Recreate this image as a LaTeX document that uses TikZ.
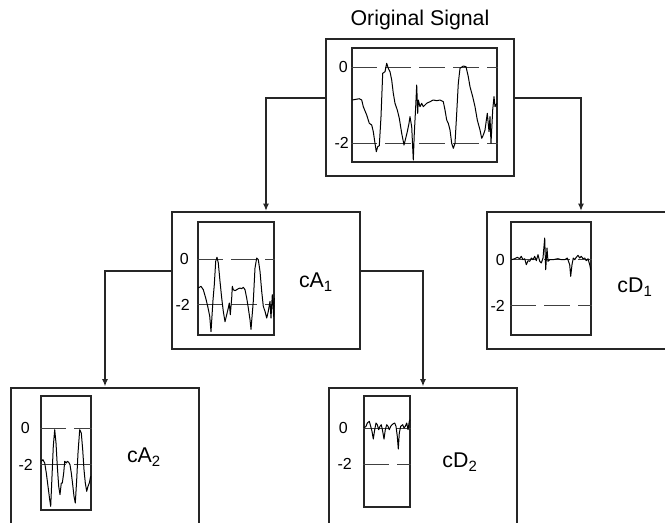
\documentclass[tikz,border=0pt]{standalone}
\usepackage{fontspec}
\setmainfont{Liberation Sans}
\usetikzlibrary{positioning,arrows.meta}
\begin{document}
\begin{tikzpicture}[x=0.75pt, y=-0.75pt,
    panel/.style={draw=black!85, line width=1.5pt, minimum width=141pt, minimum height=102.75pt, inner sep=0pt},
    plotbox/.style={draw=black!85, line width=0.9pt, inner sep=0pt},
    level/.style={black!75, line width=0.6pt, dash pattern=on 19.5pt off 6pt},
    sig/.style={black, line width=0.75pt, line join=round},
    link/.style={draw=black!85, line width=1.5pt, -{Latex[length=5.5pt,width=4.5pt]}},
    axlabel/.style={anchor=east, inner sep=0pt, font=\fontsize{12}{14}\selectfont},
    coef/.style={inner sep=0pt, font=\fontsize{16}{19}\selectfont}]
    \useasboundingbox (0,0) rectangle (665,522);
    \clip (0,0) rectangle (665,522);

    % panels
    \node[panel] (orig) at (420,107.5) {};
    \node[panel] (ca1) at (266,280.5) {};
    \node[panel] (cd1) at (581,280.5) {};
    \node[panel] (ca2) at (105,456) {};
    \node[panel] (cd2) at (423,456) {};
    \node[coef, above=6pt of orig] (title) {Original Signal};

    % plot frames
    \node[plotbox, minimum width=108.75pt, minimum height=85.5pt] (origplot) at (424.5,105) {};
    \node[plotbox, minimum width=57pt, minimum height=84.75pt] (ca1plot) at (236,278.5) {};
    \node[plotbox, minimum width=60pt, minimum height=84.75pt] (cd1plot) at (551,278.5) {};
    \node[plotbox, minimum width=37.5pt, minimum height=85.5pt] (ca2plot) at (66,453) {};
    \node[plotbox, minimum width=34.5pt, minimum height=83.25pt] (cd2plot) at (387,451.5) {};

    % levels 0 and -2
    \draw[level] (origplot.west |- 0,67) -- (origplot.east |- 0,67);
    \draw[level] (origplot.west |- 0,143) -- (origplot.east |- 0,143);
    \draw[level] (ca1plot.west |- 0,259) -- (ca1plot.east |- 0,259);
    \draw[level] (ca1plot.west |- 0,304.5) -- (ca1plot.east |- 0,304.5);
    \draw[level] (cd1plot.west |- 0,259.5) -- (cd1plot.east |- 0,259.5);
    \draw[level] (cd1plot.west |- 0,305.5) -- (cd1plot.east |- 0,305.5);
    \draw[level] (ca2plot.west |- 0,428) -- (ca2plot.east |- 0,428);
    \draw[level] (ca2plot.west |- 0,464.5) -- (ca2plot.east |- 0,464.5);
    \draw[level] (cd2plot.west |- 0,428) -- (cd2plot.east |- 0,428);
    \draw[level] (cd2plot.west |- 0,464) -- (cd2plot.east |- 0,464);

    \node[axlabel] (orig0) at (348,67) {0};
    \node[axlabel] (orig2) at (349,143) {-2};
    \node[axlabel] (ca10) at (189,259) {0};
    \node[axlabel] (ca12) at (190,304.5) {-2};
    \node[axlabel] (cd10) at (505,259.5) {0};
    \node[axlabel] (cd12) at (505,305.5) {-2};
    \node[axlabel] (ca20) at (30,428) {0};
    \node[axlabel] (ca22) at (33,464.5) {-2};
    \node[axlabel] (cd20) at (348,428) {0};
    \node[axlabel] (cd22) at (352,464) {-2};

    \node[coef] (ca1label) at (316,282) {cA\textsubscript{1}};
    \node[coef] (cd1label) at (635,287) {cD\textsubscript{1}};
    \node[coef] (ca2label) at (144,457) {cA\textsubscript{2}};
    \node[coef] (cd2label) at (460,462) {cD\textsubscript{2}};

    % signals
    \draw[sig] plot coordinates {(352.3,100) (359.3,98.7) (361.7,100) (363.3,106.7) (366.7,115) (369.3,123.3) (371.7,125) (373.3,131.7) (375,143.3) (376.3,151.7) (377.7,146.7) (379.3,145.7) (381,116.7) (382.7,73.3) (385,71.7) (386.7,63.3) (388.3,68.3) (390,71.7) (391.7,80) (393.3,93.3) (395,103.3) (397.3,110) (399.3,118.3) (401.7,133.3) (404,145) (405.7,138.3) (407.3,131.7) (409,123.3) (410,116.7) (411.7,126.7) (413.3,160) (414.3,133.3) (415.7,106.7) (416.7,85) (417.7,113.3) (418.3,100) (420,106.7) (421.7,103.3) (423.3,106.7) (426.7,103.3) (430,101.7) (433.3,100) (436.7,100.7) (440,100) (443.3,101.7) (445,110) (446.7,120) (448.3,123.3) (450,130) (451.7,143.3) (453.3,148.3) (455,143.3) (456.7,113.3) (458.3,83.3) (460,68.3) (463.3,66) (466,66.7) (468.3,76.7) (470,86.7) (472.7,96.7) (475,106.7) (477.3,120) (480,130) (481.7,138.3) (483.3,135) (485,130) (487.3,113.3) (489,131.7) (490,116.7) (491,143.3) (492.7,110) (494,96.7) (495,106.7) (496.7,103.3)};
    \draw[sig] plot coordinates {(198.3,288) (201,286.3) (203.3,289.7) (205.7,298) (207.7,306.3) (209.7,316) (211,331.7) (213,300) (214.3,284.7) (215.7,261.3) (217,257.3) (218.3,263) (220,281.3) (221.7,298) (223.3,311.3) (225,321.7) (226.7,314.7) (228.3,308) (229.3,303) (230.3,314.7) (231.7,298) (232.3,286.3) (233.3,289.7) (235,290.7) (236.7,289.7) (238.3,288.7) (240,288) (241.7,288.7) (243.3,287.3) (245,289.7) (246.7,298) (248.3,308) (250,319.7) (251,329.3) (253.3,301.3) (255,268) (256.7,258) (258.3,259.7) (260,271.3) (261.7,291.3) (263.3,306.3) (265,311.3) (266.7,318) (268.3,311.3) (270,301.3) (271,318) (272.3,294.7) (273.7,316.3) (274.3,298)};
    \draw[sig] plot coordinates {(511.3,259.7) (514.7,258.7) (517.3,257.3) (519.7,258.7) (521.3,256.3) (523,259.7) (524.7,258.7) (526.3,264.7) (528,260.7) (529.7,261.3) (531.3,258) (533,259.7) (534.7,256.3) (536.3,260.7) (538,254.7) (539.7,261.3) (541.3,263) (543,258) (544.7,238) (545.7,269.7) (547,248) (548,261.3) (549.7,259.7) (553,259.7) (558,258.7) (561.3,259.7) (564.7,259.7) (567.3,258) (569.7,264.7) (570.7,276.3) (572,264.7) (573.3,258) (574.7,259.7) (576.3,257.3) (578,255.3) (579.7,258) (581.3,256.3) (583,258.7) (584.7,258) (586.3,260.7) (588,258.7) (589.7,264.7) (590.7,269.7)};
    \draw[sig] plot coordinates {(41.3,461.3) (43,459.7) (44.7,463) (46.3,473) (48,486.3) (49.7,499.7) (50.7,506.3) (52,476.3) (53.3,446.3) (54.7,429.7) (56,443) (57.3,466.3) (58.7,486.3) (60,494.7) (61.3,483) (62.3,483) (63.7,473) (64.7,461.3) (66.3,463) (67.3,461.3) (68.7,462.3) (70,464.7) (71.3,473) (72.7,484.7) (74,496.3) (75.3,503) (76.7,479.7) (78,453) (79.7,429.7) (81.3,433) (82.7,449.7) (84,469.7) (85.3,483) (86.7,491.3) (88,486.3) (89.3,483) (90.7,476.3)};
    \draw[sig] plot coordinates {(364,428) (366,426.3) (367.3,423) (369.3,421.3) (370.7,426.3) (372,431.3) (373.3,439) (374.7,429.7) (376,423) (377.3,424.7) (378.7,429.7) (380,426.3) (381.3,424.7) (382.7,431.3) (384,439) (385.3,429.7) (386.7,424.7) (388,426.3) (389.3,429.7) (390.7,426.3) (392,424.7) (393.3,423.7) (394.7,423) (396,426.3) (397.3,436.3) (398.3,449) (399.3,433) (400.7,426.3) (402.7,424.7) (404,428) (405.3,426.3) (406.7,423) (408,429.7) (409.3,421.3) (410,419.7)};

    % connectors
    \draw[link] ([yshift=7.5pt]orig.west) -| (ca1.north);
    \draw[link] ([yshift=7.5pt]orig.east) -| (cd1.north);
    \draw[link] ([yshift=7.5pt]ca1.west) -| (ca2.north);
    \draw[link] ([yshift=7.5pt]ca1.east) -| (cd2.north);
\end{tikzpicture}
\end{document}
